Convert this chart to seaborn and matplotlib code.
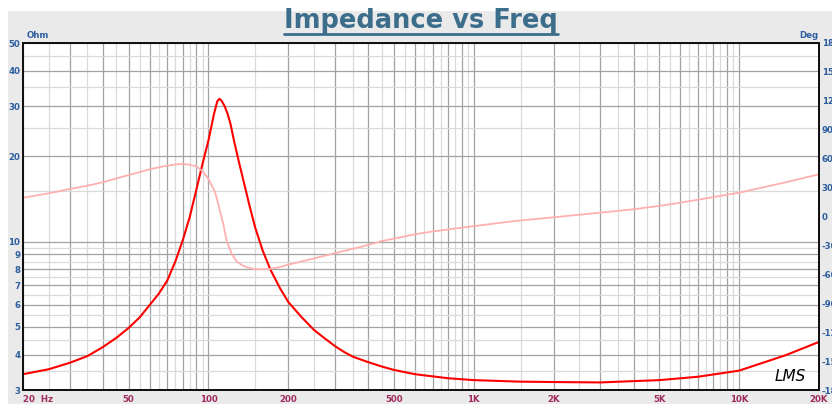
import pandas as pd
import matplotlib

matplotlib.use("Agg")
import matplotlib.pyplot as plt
import seaborn as sns
from matplotlib.lines import Line2D
from matplotlib.patches import Rectangle
from matplotlib.ticker import FixedLocator, NullFormatter

# Impedance magnitude (Hz, Ohm)
imp_freq = [20, 25, 30, 35, 40, 45, 50, 55, 60, 65, 70, 75, 80, 85, 90, 95,
            100, 105, 108, 110, 112, 115, 118, 121, 125, 130, 135, 143, 150,
            160, 171, 186, 200, 225, 250, 275, 300, 325, 350, 400, 450, 500,
            600, 800, 1000, 1500, 2000, 3000, 5000, 7000, 10000, 15000, 20000]
imp_ohm = [3.41, 3.55, 3.74, 3.95, 4.25, 4.58, 4.96, 5.4, 5.97, 6.55, 7.3,
           8.5, 10.1, 12.2, 15.2, 18.8, 22.7, 28.2, 31.2, 31.8, 31.3, 30.0,
           28.2, 26.0, 22.5, 19.2, 16.6, 13.3, 11.2, 9.3, 7.98, 6.85, 6.12,
           5.4, 4.88, 4.55, 4.28, 4.08, 3.93, 3.76, 3.63, 3.53, 3.41, 3.30,
           3.25, 3.21, 3.20, 3.19, 3.25, 3.34, 3.51, 3.98, 4.43]

# Phase (Hz, degrees)
phase_freq = [20, 25, 30, 35, 40, 45, 50, 55, 60, 65, 70, 75, 80, 85, 90, 95,
              100, 106, 110, 114, 117, 120, 123, 128, 134, 139, 150, 170, 185,
              200, 250, 300, 350, 400, 450, 530, 600, 700, 850, 1000, 1450,
              2000, 3000, 4000, 5000, 6000, 10000, 15000, 20000]
phase_deg = [19.5, 24, 28.5, 32, 35.5, 39.5, 43, 46, 49, 51, 52.7, 54, 54.5,
             53.7, 52, 47, 39, 25, 8, -9, -25, -33, -40, -47, -50.5, -52.5,
             -54.8, -54.5, -52.5, -50, -43.5, -38, -33.5, -29.5, -25.5, -21.5,
             -18.5, -15.5, -12.5, -10, -4.5, -0.8, 4, 7.5, 11, 14.3, 24.7,
             35.5, 43.8]

# Axis labels
x_ticks = [20, 50, 100, 200, 500, 1000, 2000, 5000, 10000, 20000]
x_labels = ["20  Hz", "50", "100", "200", "500", "1K", "2K", "5K", "10K", "20K"]
ohm_ticks = [3, 4, 5, 6, 7, 8, 9, 10, 20, 30, 40, 50]
ohm_minor = [3.5, 4.5, 5.5, 6.5, 7.5, 8.5, 9.5, 15, 25, 35, 45]
deg_ticks = [180, 150, 120, 90, 60, 30, 0, -30, -60, -90, -120, -150, -180]

imp_df = pd.DataFrame({"freq": imp_freq, "ohm": imp_ohm})
phase_df = pd.DataFrame({"freq": phase_freq, "deg": phase_deg})

# grid positions: every 1..9 x decade (dark), halves in between (light)
grid_x = [k * 10 ** n for n in range(1, 5) for k in range(1, 10)]
grid_x = [g for g in grid_x if 20 <= g <= 20000]
grid_x_minor = [(k + 0.5) * 10 ** n for n in range(1, 4) for k in range(1, 10)]
grid_x_minor = [g for g in grid_x_minor if 20 < g < 20000]

sns.set_style("white")
plt.rcParams["font.family"] = ["DejaVu Sans"]

blue = "#2D5E9E"
maroon = "#9E2A5E"

fig = plt.figure(figsize=(8.32, 4.04), dpi=100)
fig.patch.set_facecolor("white")
fig.add_artist(Rectangle((8 / 832, 0), 1, 393 / 404, transform=fig.transFigure,
                         facecolor="#EAEAEA", edgecolor="none", zorder=-10))

ax = fig.add_axes([23 / 832, 14 / 404, 796 / 832, 347 / 404])
ax.set_facecolor("white")
ax.set_xscale("log")
ax.set_yscale("log")
sns.lineplot(data=imp_df, x="freq", y="ohm", ax=ax, color="#FF0000",
             linewidth=1.5, estimator=None, sort=False)
ax.set_xlim(20, 20000)
ax.set_ylim(3, 50)

label_map = dict(zip(x_ticks, x_labels))
ax.set_xticks(grid_x, labels=[label_map.get(g, "") for g in grid_x])
ax.xaxis.set_minor_locator(FixedLocator(grid_x_minor))
ax.xaxis.set_minor_formatter(NullFormatter())
ax.set_yticks(ohm_ticks, labels=[str(t) for t in ohm_ticks])
ax.yaxis.set_minor_locator(FixedLocator(ohm_minor))
ax.yaxis.set_minor_formatter(NullFormatter())

ax.grid(which="major", color="#A2A2A2", linewidth=0.9)
ax.grid(which="minor", color="#DADADA", linewidth=0.9)
ax.set_axisbelow(True)
ax.tick_params(axis="both", which="both", length=0)
ax.tick_params(axis="x", pad=3.5, labelsize=6.2, labelcolor=maroon)
ax.tick_params(axis="y", pad=2, labelsize=6.2, labelcolor=blue)
for lab in ax.get_xticklabels() + ax.get_yticklabels():
    lab.set_fontweight("bold")
ax.get_xticklabels()[0].set_horizontalalignment("left")
ax.set_xlabel("")
ax.set_ylabel("")

ax2 = ax.twinx()
sns.lineplot(data=phase_df, x="freq", y="deg", ax=ax2, color="#FFB0B0",
             linewidth=1.3, estimator=None, sort=False)
ax2.set_ylim(-180, 180)
ax2.set_yticks(deg_ticks, labels=[str(t) for t in deg_ticks])
ax2.grid(False)
ax2.tick_params(axis="y", length=0, pad=2, labelsize=6.2, labelcolor=blue)
for lab in ax2.get_yticklabels():
    lab.set_fontweight("bold")
ax2.set_ylabel("")

for a in (ax, ax2):
    for sp in a.spines.values():
        sp.set_visible(True)
        sp.set_color("#111111")
        sp.set_linewidth(1.4)

fig.text(27 / 832, 1 - 35 / 404, "Ohm", color=blue, fontsize=6.2,
         fontweight="bold", va="center", ha="left")
fig.text(818 / 832, 1 - 35 / 404, "Deg", color=blue, fontsize=6.2,
         fontweight="bold", va="center", ha="right")

title = fig.text(421 / 832, 1 - 21 / 404, "Impedance vs Freq", color="#3C6E8C",
                 fontsize=18.5, fontweight="bold", ha="center", va="center")

ax.text(0.9636, 0.04, "LMS", transform=ax.transAxes, fontsize=11,
        fontstyle="italic", color="black", ha="center", va="center")

fig.canvas.draw()
bb = title.get_window_extent()
uy = (404 - 34) / 404
fig.add_artist(Line2D([bb.x0 / 832, bb.x1 / 832], [uy, uy], color="#3C6E8C",
                      linewidth=2.0, transform=fig.transFigure))

fig.savefig("out.png", dpi=100, facecolor=fig.get_facecolor())
